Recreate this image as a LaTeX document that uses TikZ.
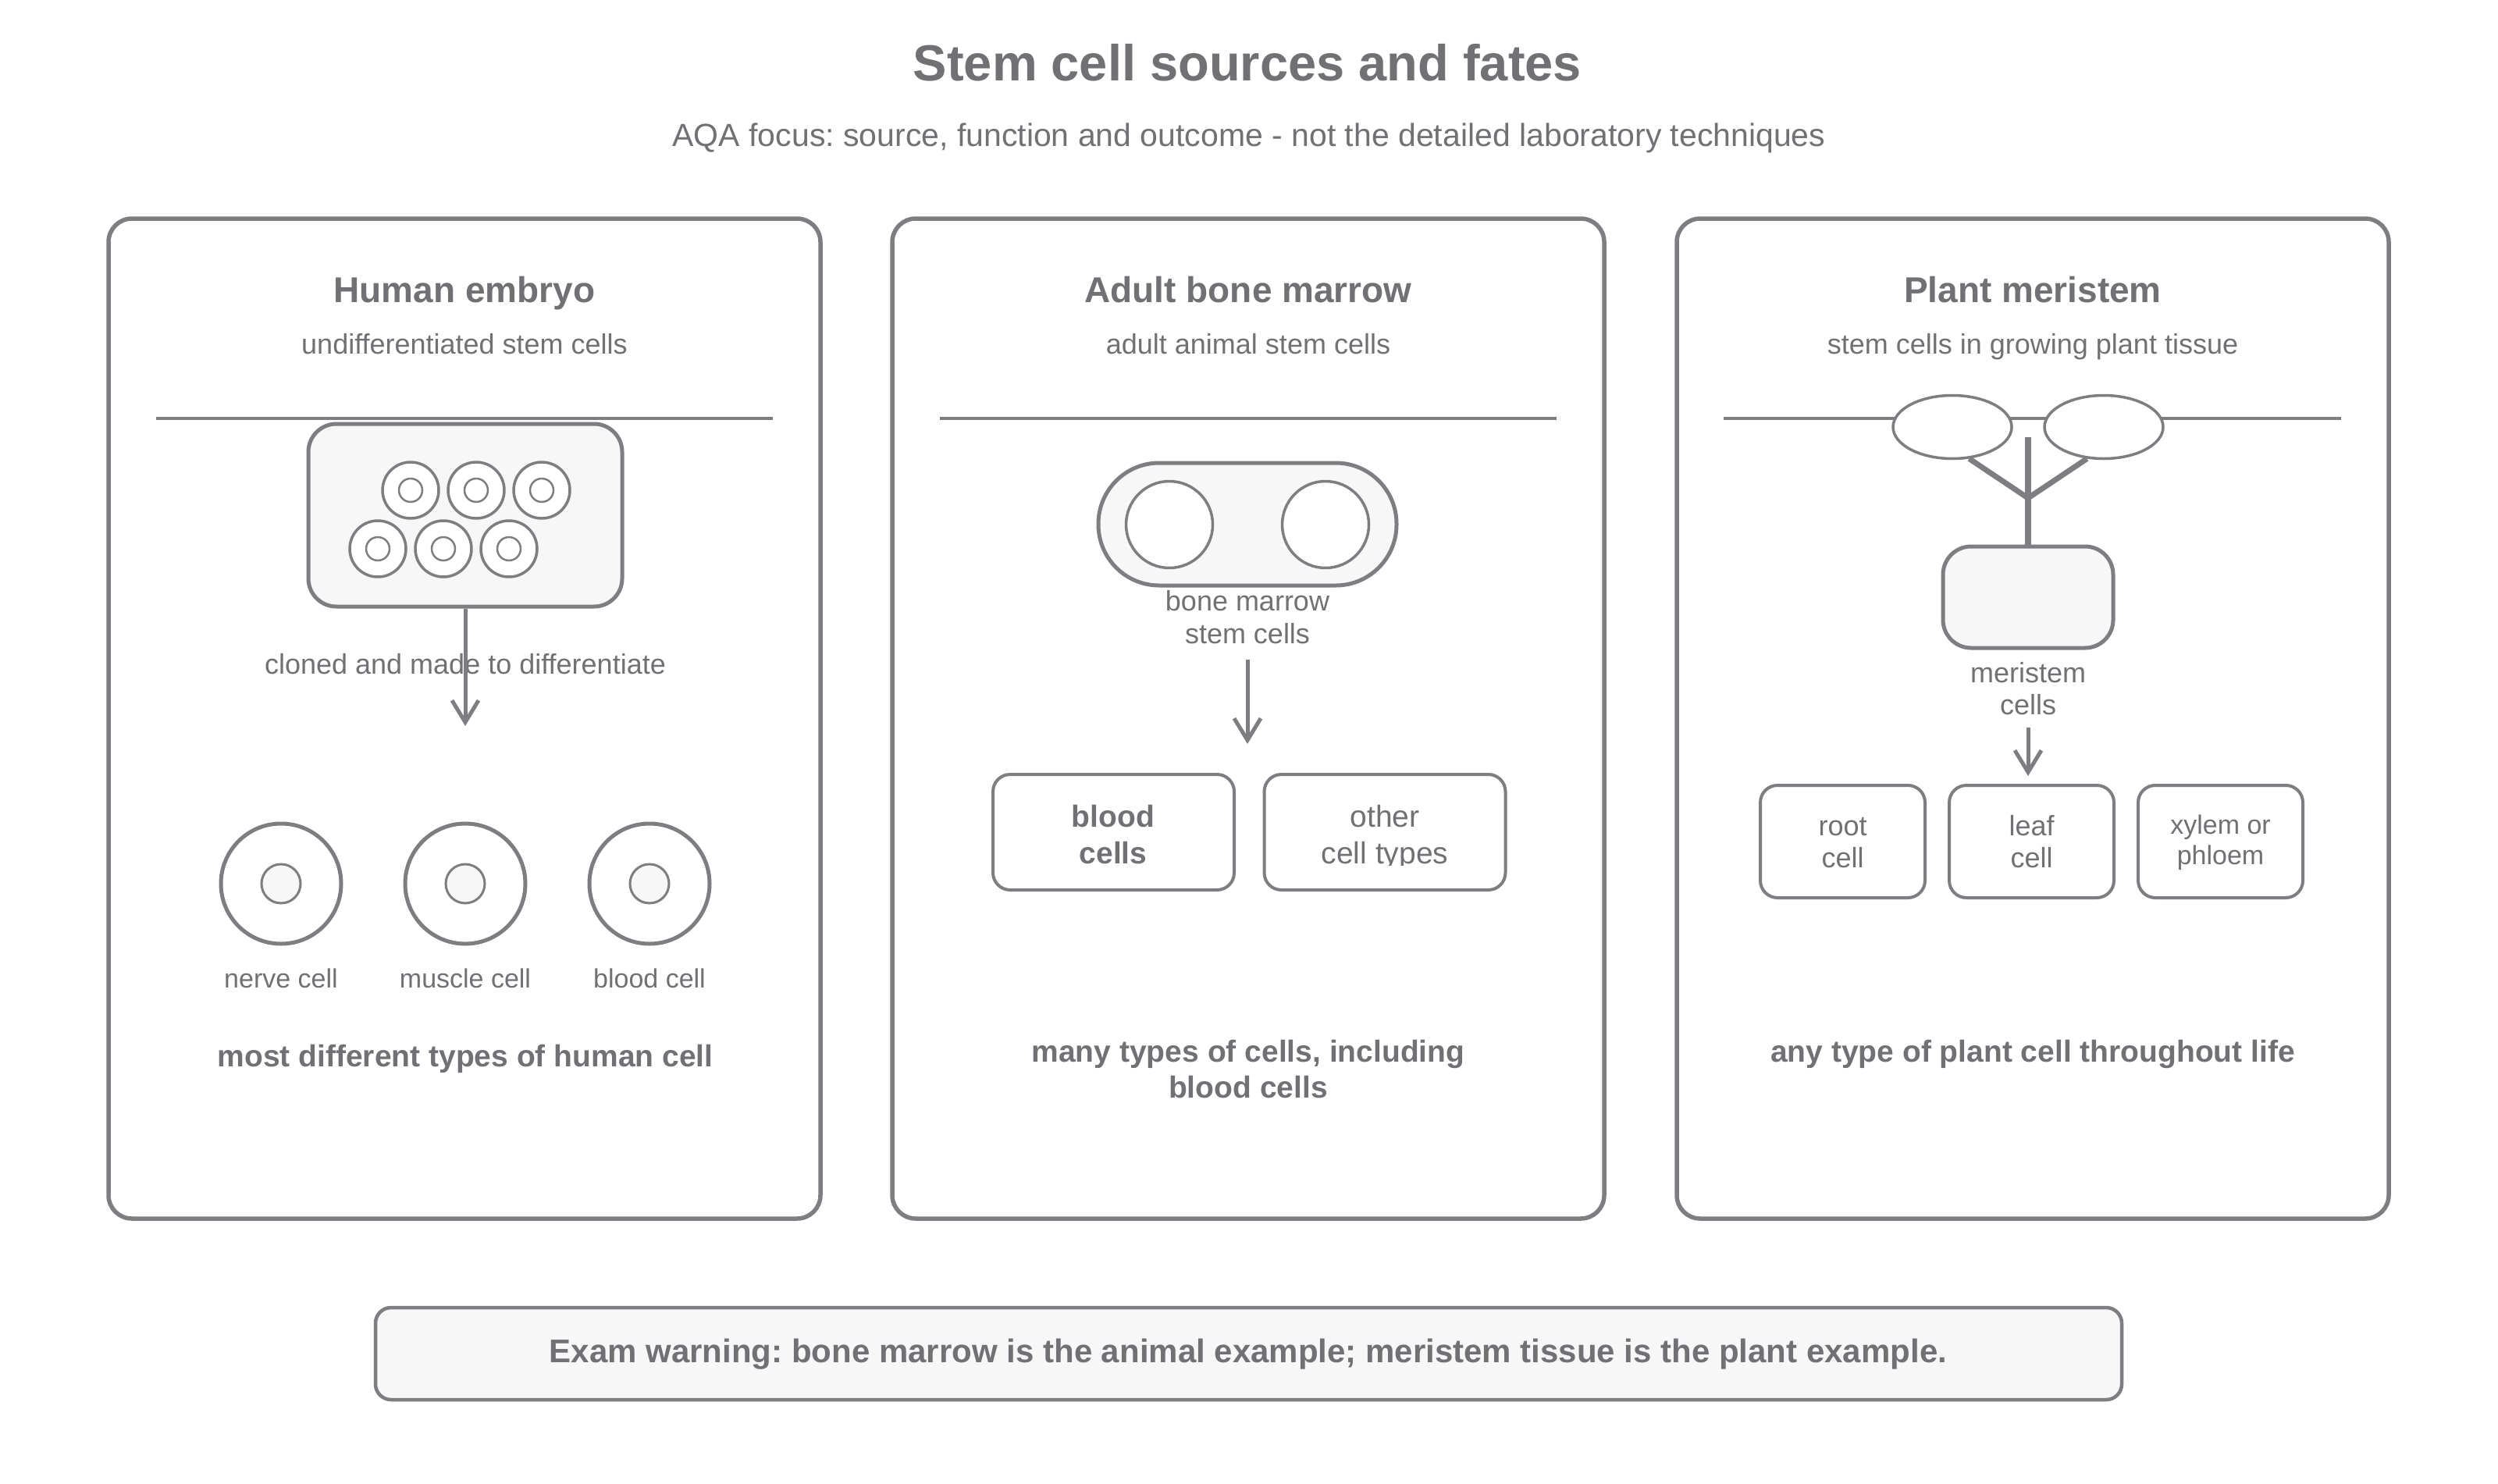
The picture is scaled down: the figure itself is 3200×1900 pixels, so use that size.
\documentclass[tikz,border=0pt]{standalone}
\usepackage{fontspec}
\setmainfont{Liberation Sans}
\usetikzlibrary{arrows.meta,shapes.geometric}
\definecolor{ln}{RGB}{125,125,130}
\definecolor{tc}{RGB}{112,112,117}
\definecolor{fl}{RGB}{247,247,247}
\frenchspacing
\begin{document}
\begin{tikzpicture}[x=1pt,y=-1pt,
  base/.style={inner sep=0pt, outer sep=0pt, anchor=base, text=tc},
  maintitle/.style={base, font=\bfseries\fontsize{65}{78}\selectfont},
  mainsub/.style={base, font=\fontsize{41}{49}\selectfont},
  ptitle/.style={base, font=\bfseries\fontsize{46}{55}\selectfont},
  txt/.style={base, font=\fontsize{36}{43}\selectfont},
  small/.style={base, font=\fontsize{34}{41}\selectfont},
  boxtxt/.style={base, font=\fontsize{39}{47}\selectfont},
  boxbold/.style={base, font=\bfseries\fontsize{39}{47}\selectfont},
  bottomtxt/.style={base, font=\bfseries\fontsize{39}{47}\selectfont},
  examtxt/.style={base, font=\bfseries\fontsize{42}{50}\selectfont},
  panel/.style={draw=ln, line width=5.5pt, rounded corners=30pt, fill=white,
    minimum width=912pt, minimum height=1281pt, inner sep=0pt},
  divider/.style={draw=ln, line width=4pt},
  graybox/.style={draw=ln, line width=5pt, fill=fl, inner sep=0pt},
  wbox/.style={draw=ln, line width=4pt, fill=white, rounded corners=22pt, inner sep=0pt},
  scell/.style={circle, draw=ln, line width=3.5pt, fill=white, minimum size=72pt, inner sep=0pt},
  snuc/.style={circle, draw=ln, line width=2.5pt, fill=white, minimum size=30pt, inner sep=0pt},
  bigcell/.style={circle, draw=ln, line width=5pt, fill=white, minimum size=154pt, inner sep=0pt},
  bignuc/.style={circle, draw=ln, line width=3pt, fill=fl, minimum size=50pt, inner sep=0pt},
  bmcell/.style={circle, draw=ln, line width=3.5pt, fill=white, minimum size=111pt, inner sep=0pt},
  leafshape/.style={ellipse, draw=ln, line width=3.5pt, fill=white, minimum width=152pt, minimum height=81pt, inner sep=0pt},
  arr/.style={draw=ln, line width=5pt, -{Straight Barb[length=28pt, width=34pt]}},
  stemline/.style={draw=ln, line width=8pt},
  branchline/.style={draw=ln, line width=7pt}]

\useasboundingbox (0,0) rectangle (3200,1900);
\fill[white] (0,0) rectangle (3200,1900);

% titles
\node[maintitle] (title) at (1598,104) {Stem cell sources and fates};
\node[mainsub] (subtitle) at (1600,187) {AQA focus: source, function and outcome - not the detailed laboratory techniques};

% panels
\node[panel] (p1) at (595,920.5) {};
\node[panel] (p2) at (1599,920.5) {};
\node[panel] (p3) at (2604,920.5) {};

% ---------- panel 1 ----------
\node[ptitle] (p1t) at (595,387) {Human embryo};
\node[txt] (p1s) at (595,453) {undifferentiated stem cells};
\draw[divider] (200,536) -- (990,536);
\node[graybox, rounded corners=36pt, minimum width=402pt, minimum height=234pt] (ebox) at (596,660) {};
\foreach \n/\x/\y in {a/526/628,b/610/628,c/694/628,d/484/703,e/568/703,f/652/703} {
  \node[scell] (sc\n) at (\x,\y) {};
  \node[snuc] (sn\n) at (\x,\y) {};
}
\node[txt] (elab) at (596,863) {cloned and made to differentiate};
\coordinate (etip) at (596,930);
\draw[arr] (ebox.south) -- (etip);

\node[bigcell] (nerve) at (360,1132) {};
\node[bignuc] (nerven) at (360,1132) {};
\node[bigcell] (muscle) at (596,1132) {};
\node[bignuc] (musclen) at (596,1132) {};
\node[bigcell] (blood) at (832,1132) {};
\node[bignuc] (bloodn) at (832,1132) {};
\node[small] (nervel) at (360,1265) {nerve cell};
\node[small] (musclel) at (596,1265) {muscle cell};
\node[small] (bloodl) at (832,1265) {blood cell};
\node[bottomtxt] (p1b) at (596,1366) {most different types of human cell};

% ---------- panel 2 ----------
\node[ptitle] (p2t) at (1599,387) {Adult bone marrow};
\node[txt] (p2s) at (1599,453) {adult animal stem cells};
\draw[divider] (1204,536) -- (1994,536);
\node[graybox, rounded corners=78pt, minimum width=382pt, minimum height=157pt] (cap) at (1598,671.5) {};
\node[bmcell] (bmc1) at (1498,672) {};
\node[bmcell] (bmc2) at (1698,672) {};
\node[txt] (bml1) at (1598,782) {bone marrow};
\node[txt] (bml2) at (1598,824) {stem cells};
\node[wbox, minimum width=309pt, minimum height=148pt] (bbox) at (1426.5,1066) {};
\node[wbox, minimum width=309pt, minimum height=148pt] (obox) at (1774,1066) {};
\draw[arr, shorten <=21pt, shorten >=37pt] (bml2.south) -- (bml2.south |- bbox.north);
\node[boxbold] (bb1) at (1426,1059) {blood};
\node[boxbold] (bb2) at (1426,1106.5) {cells};
\node[boxtxt] (ob1) at (1774,1059) {other};
\begin{scope}
  \clip (1630,1070) rectangle (1918,1108);
  \node[boxtxt] (ob2) at (1774,1106.5) {cell types};
\end{scope}
\node[bottomtxt] (p2b1) at (1599,1360) {many types of cells, including};
\node[bottomtxt] (p2b2) at (1599,1406) {blood cells};

% ---------- panel 3 ----------
\node[ptitle] (p3t) at (2604,387) {Plant meristem};
\node[txt] (p3s) at (2604,453) {stem cells in growing plant tissue};
\draw[divider] (2208,536) -- (2999,536);
\node[leafshape] (lleaf) at (2501,547) {};
\node[leafshape] (rleaf) at (2695,547) {};
\node[graybox, rounded corners=36pt, minimum width=218pt, minimum height=130pt] (mbox) at (2598,765) {};
\coordinate (stemtop) at (2598,560);
\coordinate (fork) at (2598,638);
\draw[stemline] (stemtop) -- (mbox.north);
\draw[branchline] (fork) -- (lleaf.-62);
\draw[branchline] (fork) -- (rleaf.-118);
\node[txt] (ml1) at (2598,874) {meristem};
\node[txt] (ml2) at (2598,915) {cells};
\node[wbox, minimum width=211pt, minimum height=144pt] (rootbox) at (2360.5,1078) {};
\node[wbox, minimum width=211pt, minimum height=144pt] (leafbox) at (2602.5,1078) {};
\node[wbox, minimum width=211pt, minimum height=144pt] (xbox) at (2844.5,1078) {};
\draw[arr, shorten <=17pt, shorten >=10pt] (ml2.south) -- (ml2.south |- leafbox.north);
\node[txt] (r1) at (2360.5,1070) {root};
\node[txt] (r2) at (2360.5,1111.5) {cell};
\node[txt] (l1) at (2602.5,1070) {leaf};
\node[txt] (l2) at (2602.5,1111.5) {cell};
\node[small] (x1) at (2844.5,1068) {xylem or};
\node[small] (x2) at (2844.5,1107) {phloem};
\node[bottomtxt] (p3b) at (2604,1360) {any type of plant cell throughout life};

% ---------- exam warning ----------
\node[graybox, line width=4.5pt, rounded corners=20pt, minimum width=2237pt, minimum height=118pt] (exam) at (1599.5,1734) {};
\node[examtxt] (examt) at (1599,1745) {Exam warning: bone marrow is the animal example; meristem tissue is the plant example.};
\end{tikzpicture}
\end{document}
